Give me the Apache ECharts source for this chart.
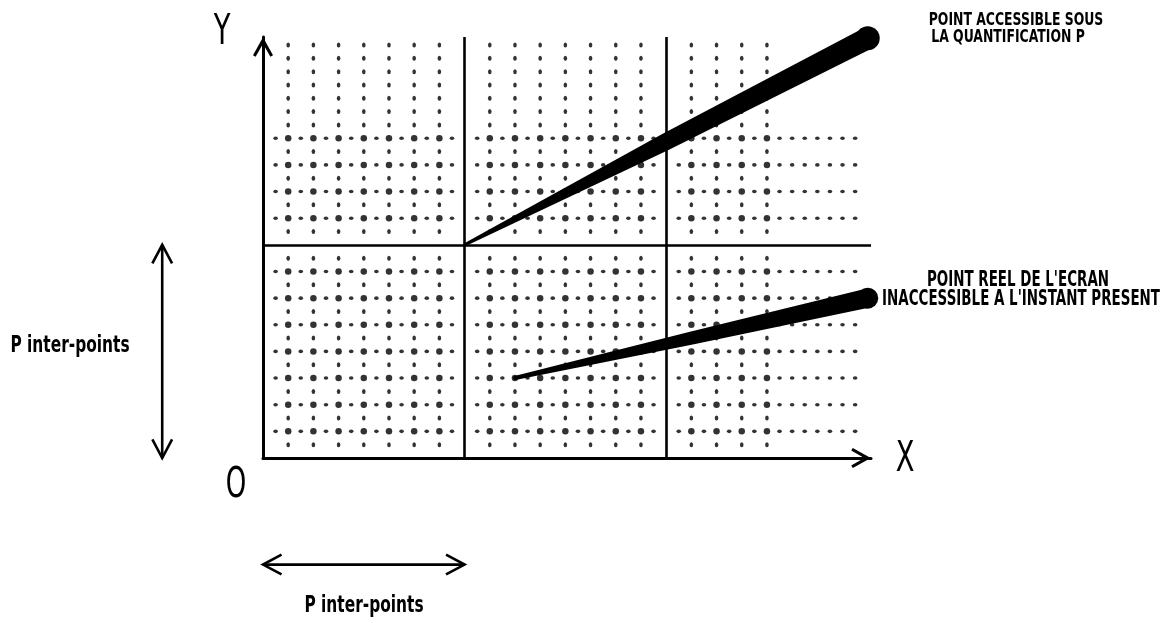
<!DOCTYPE html>
<html>
<head>
<meta charset="utf-8">
<script src="https://cdn.jsdelivr.net/npm/echarts@6/dist/echarts.min.js"></script>
<style>
html, body { margin: 0; padding: 0; background: #fff; }
#chart { width: 1161px; height: 623px; }
</style>
</head>
<body>
<div id="chart"></div>
<script>
// units: one column = half a quantification step P (P = 8 units)
const dotColumns = [1, 2, 3, 4, 5, 6, 7, 9, 10, 11, 12, 13, 14, 15, 17, 18, 19, 20];
const dottedRows = [1, 2, 3, 4, 5, 6, 7, 9, 10, 11, 12];
const columnDotY = [0.5, 1, 1.5, 2, 2.5, 3, 3.5, 4, 4.5, 5, 5.5, 6, 6.5, 7, 7.5,
  8.5, 9, 9.5, 10, 10.5, 11, 11.5, 12, 12.5, 13, 13.5, 14, 14.5, 15, 15.5];
const rowDotX = [0.5, 1, 1.5, 2, 2.5, 3, 3.5, 4, 4.5, 5, 5.5, 6, 6.5, 7, 7.5,
  8.5, 9, 9.5, 10, 10.5, 11, 11.5, 12, 12.5, 13, 13.5, 14, 14.5, 15, 15.5,
  16.5, 17, 17.5, 18, 18.5, 19, 19.5, 20, 20.5, 21, 21.5, 22, 22.5, 23, 23.5];
const solidX = [8, 16];
const solidY = [8];

// the two tapered strokes (start point -> end point)
const wedgeStart = [[8, 8], [10, 3]];
const wedgeEnd = [[24, 15.75], [24, 6]];

// "P inter-points" dimension arrows
const spanStart = [[-4, 0], [0, -4]];
const spanEnd = [[-4, 8], [8, -4]];

// widths of each stroke at start, middle, end (px)
const wedgeWidths = [[3, 17, 22], [4, 13, 19]];

const colDots = [], rowDots = [], crossDots = [];
dotColumns.forEach(c => {
  columnDotY.forEach(y => {
    if (dottedRows.indexOf(y) < 0) colDots.push([c, y]);
  });
  dottedRows.forEach(r => crossDots.push([c, r]));
});
dottedRows.forEach(r => {
  rowDotX.forEach(x => {
    if (dotColumns.indexOf(x) < 0) rowDots.push([x, r]);
  });
});

const chevron = 'path://M10,0 L20,18 L17.4,19.6 L10,6.5 L2.6,19.6 L0,18 Z';

function renderWedge(params, api) {
  const p0 = api.coord([api.value(0), api.value(1)]);
  const p1 = api.coord([api.value(2), api.value(3)]);
  const w = wedgeWidths[params.dataIndex];
  const dx = p1[0] - p0[0], dy = p1[1] - p0[1];
  const len = Math.hypot(dx, dy);
  const nx = -dy / len, ny = dx / len;
  const left = [], right = [];
  [0, 0.5, 1].forEach((t, i) => {
    const cx = p0[0] + dx * t, cy = p0[1] + dy * t;
    left.push([cx + nx * w[i] / 2, cy + ny * w[i] / 2]);
    right.push([cx - nx * w[i] / 2, cy - ny * w[i] / 2]);
  });
  return {
    type: 'group',
    children: [
      { type: 'polygon', shape: { points: left.concat(right.reverse()) }, style: { fill: '#000' } },
      { type: 'circle', shape: { cx: p1[0], cy: p1[1], r: w[2] / 2 + 1 }, style: { fill: '#000' } },
      { type: 'circle', shape: { cx: p0[0], cy: p0[1], r: w[0] / 2 }, style: { fill: '#000' } }
    ]
  };
}

function renderSpan(params, api) {
  const p0 = api.coord([api.value(0), api.value(1)]);
  const p1 = api.coord([api.value(2), api.value(3)]);
  const dx = p1[0] - p0[0], dy = p1[1] - p0[1];
  const len = Math.hypot(dx, dy);
  const ux = dx / len, uy = dy / len;
  const L = 21, a = 28 * Math.PI / 180;
  const c = Math.cos(a), s = Math.sin(a);
  const head = (p, bx, by) => [
    [p[0] + L * (bx * c - by * s), p[1] + L * (bx * s + by * c)],
    p,
    [p[0] + L * (bx * c + by * s), p[1] + L * (-bx * s + by * c)]
  ];
  const st = { stroke: '#000', lineWidth: 2.6, fill: null };
  return {
    type: 'group',
    children: [
      { type: 'line', shape: { x1: p0[0], y1: p0[1], x2: p1[0], y2: p1[1] }, style: st },
      { type: 'polyline', shape: { points: head(p1, -ux, -uy) }, style: st },
      { type: 'polyline', shape: { points: head(p0, ux, uy) }, style: st }
    ]
  };
}

const hiddenAxis = {
  type: 'value',
  axisTick: { show: false },
  axisLabel: { show: false },
  splitLine: { show: false }
};

const chart = echarts.init(document.getElementById('chart'));

chart.setOption({
  animation: false,
  backgroundColor: '#fff',
  grid: { left: 263, right: 290, top: 37, bottom: 165 },
  xAxis: Object.assign({}, hiddenAxis, {
    min: 0, max: 24.13,
    axisLine: {
      show: true, onZero: false,
      lineStyle: { color: '#000', width: 3 },
      symbol: ['none', chevron], symbolSize: [20, 20], symbolOffset: [0, -10]
    }
  }),
  yAxis: Object.assign({}, hiddenAxis, {
    min: 0, max: 15.8,
    axisLine: {
      show: true, onZero: false,
      lineStyle: { color: '#000', width: 3 },
      symbol: ['none', chevron], symbolSize: [20, 20], symbolOffset: [0, -10]
    }
  }),
  series: [
    {
      type: 'scatter', data: colDots, symbol: 'circle', symbolSize: [3.6, 5],
      itemStyle: { color: '#000' }, silent: true,
      markLine: {
        silent: true, symbol: 'none', label: { show: false },
        lineStyle: { color: '#000', width: 2.6, type: 'solid' },
        data: solidX.map(v => ({ xAxis: v })).concat(solidY.map(v => ({ yAxis: v })))
      }
    },
    {
      type: 'scatter', data: rowDots, symbol: 'circle', symbolSize: [4.6, 3.6],
      itemStyle: { color: '#000' }, silent: true
    },
    {
      type: 'scatter', data: crossDots, symbol: 'circle', symbolSize: 6.5,
      itemStyle: { color: '#000' }, silent: true
    },
    {
      type: 'custom', renderItem: renderWedge, z: 5, silent: true,
      data: wedgeStart.map((p, i) => [p[0], p[1], wedgeEnd[i][0], wedgeEnd[i][1]])
    },
    {
      type: 'custom', renderItem: renderSpan, z: 5, silent: true,
      data: spanStart.map((p, i) => [p[0], p[1], spanEnd[i][0], spanEnd[i][1]])
    }
  ],
  graphic: [
    { type: 'text', x: 222, y: 33, scaleX: 0.65, style: { text: 'Y', font: '42px "DejaVu Sans"', fill: '#000', align: 'center', verticalAlign: 'middle' } },
    { type: 'text', x: 905, y: 460, scaleX: 0.65, style: { text: 'X', font: '42px "DejaVu Sans"', fill: '#000', align: 'center', verticalAlign: 'middle' } },
    { type: 'text', x: 236, y: 486, scaleX: 0.62, style: { text: 'O', font: '42px "DejaVu Sans"', fill: '#000', align: 'center', verticalAlign: 'middle' } },
    { type: 'text', x: 1016, y: 20, scaleX: 0.69, style: { text: 'POINT ACCESSIBLE SOUS', font: 'bold 18px "DejaVu Sans"', fill: '#000', align: 'center', verticalAlign: 'middle' } },
    { type: 'text', x: 1008, y: 37, scaleX: 0.69, style: { text: 'LA QUANTIFICATION P', font: 'bold 18px "DejaVu Sans"', fill: '#000', align: 'center', verticalAlign: 'middle' } },
    { type: 'text', x: 1018, y: 281, scaleX: 0.64, style: { text: "POINT REEL DE L'ECRAN", font: 'bold 21px "DejaVu Sans"', fill: '#000', align: 'center', verticalAlign: 'middle' } },
    { type: 'text', x: 1021, y: 300, scaleX: 0.64, style: { text: "INACCESSIBLE A L'INSTANT PRESENT", font: 'bold 21px "DejaVu Sans"', fill: '#000', align: 'center', verticalAlign: 'middle' } },
    { type: 'text', x: 70, y: 346, scaleX: 0.67, style: { text: 'P inter-points', font: 'bold 23px "DejaVu Sans"', fill: '#000', align: 'center', verticalAlign: 'middle' } },
    { type: 'text', x: 364, y: 606, scaleX: 0.67, style: { text: 'P inter-points', font: 'bold 23px "DejaVu Sans"', fill: '#000', align: 'center', verticalAlign: 'middle' } }
  ]
});
</script>
</body>
</html>
